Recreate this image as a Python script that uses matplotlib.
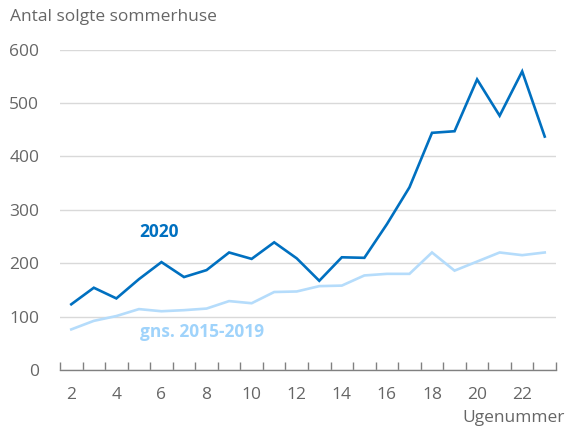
import matplotlib.pyplot as plt
from matplotlib.ticker import FixedLocator

### data ###
weeks = list(range(2, 24))
sold_2020 = [123, 154, 134, 170, 202, 174, 187, 220, 208, 239, 209, 167,
             211, 210, 273, 342, 444, 447, 544, 476, 559, 437]
avg_2015_2019 = [76, 92, 101, 114, 110, 112, 115, 129, 125, 146, 147, 157,
                 158, 177, 180, 180, 220, 186, 203, 220, 215, 220]
y_ticks = [0, 100, 200, 300, 400, 500, 600]
x_labels = list(range(2, 23, 2))

DARK = '#0070c0'
LIGHT = '#b5dcfb'
GREY = '#666666'
FS = 12.5

plt.rcParams['font.family'] = ['Open Sans', 'DejaVu Sans']

fig = plt.figure(figsize=(5.66, 4.28), dpi=100)
ax = fig.add_axes([60/566, 1-370/428, 496/566, (370-49.5)/428])

ax.plot(weeks, avg_2015_2019, color=LIGHT, linewidth=1.9, solid_joinstyle='miter', zorder=3)
ax.plot(weeks, sold_2020, color=DARK, linewidth=1.9, solid_joinstyle='miter', zorder=4)

ax.set_xlim(1.5, 23.5)
ax.set_ylim(0, 600)

# grid
ax.set_yticks(y_ticks)
ax.yaxis.grid(True, color='#d9d9d9', linewidth=1.0)
ax.set_axisbelow(True)
ax.tick_params(axis='y', length=0, pad=15, labelsize=FS, labelcolor=GREY)

# category-style x axis: tick marks between weeks, labels every 2nd week
ax.xaxis.set_major_locator(FixedLocator(x_labels))
ax.xaxis.set_minor_locator(FixedLocator([w - 0.5 for w in range(2, 25)]))
ax.tick_params(axis='x', which='major', length=0, pad=12, labelsize=FS, labelcolor=GREY)
ax.tick_params(axis='x', which='minor', direction='in', length=6, width=1, color='#808080')

for s in ['top', 'right', 'left']:
    ax.spines[s].set_visible(False)
ax.spines['bottom'].set_color('#808080')
ax.spines['bottom'].set_linewidth(1.0)

# series labels
ax.text(5.88, 259, '2020', color=DARK, fontsize=FS, fontweight='bold', ha='center', va='center')
ax.text(7.79, 71, 'gns. 2015-2019', color='#9fd3fb', fontsize=FS, fontweight='bold', ha='center', va='center')

fig.text(10/566, 1-17/428, 'Antal solgte sommerhuse', color=GREY, fontsize=FS, ha='left', va='center')
fig.text(1.0 - 1/566, 1-418/428, 'Ugenummer', color=GREY, fontsize=FS, ha='right', va='center')

fig.savefig('out.png', dpi=100)
